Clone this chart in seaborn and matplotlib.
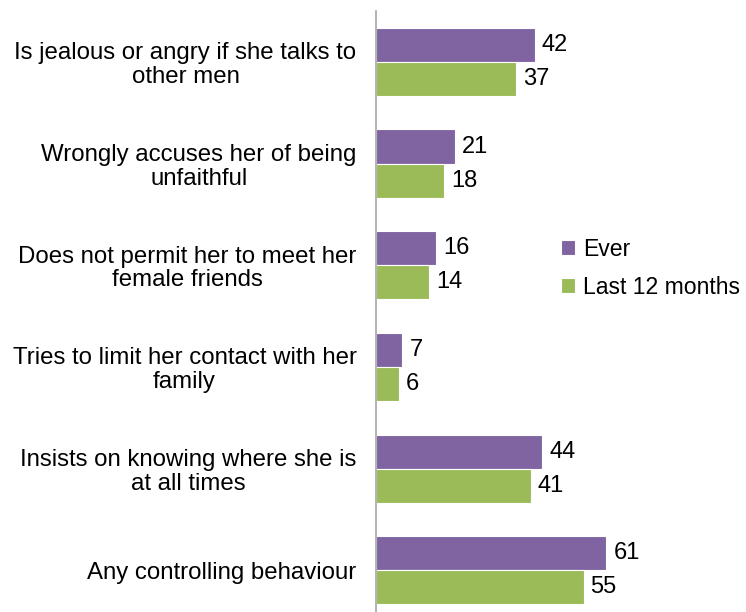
import pandas as pd
import matplotlib
matplotlib.use("Agg")
import matplotlib.pyplot as plt
import seaborn as sns

# Data
categories = [
    "Is jealous or angry if she talks to\nother men",
    "Wrongly accuses her of being\nunfaithful",
    "Does not permit her to meet her\nfemale friends",
    "Tries to limit her contact with her\nfamily",
    "Insists on knowing where she is\nat all times",
    "Any controlling behaviour",
]
ever = [42, 21, 16, 7, 44, 61]
last_12 = [37, 18, 14, 6, 41, 55]
series = ["Ever", "Last 12 months"]
colors = ["#8064A2", "#9BBB59"]

df = pd.DataFrame({
    "category": categories * 2,
    "value": ever + last_12,
    "period": [series[0]] * len(categories) + [series[1]] * len(categories),
})

sns.set_style("white")
plt.rcParams["font.family"] = ["Liberation Sans", "DejaVu Sans"]
plt.rcParams["text.color"] = "black"
plt.rcParams["ytick.color"] = "black"

fig = plt.figure(figsize=(7.46, 6.12), dpi=100)
ax = fig.add_axes([376 / 746, 0, 1 - 376 / 746, 601 / 612])

sns.barplot(
    data=df, y="category", x="value", hue="period",
    palette=colors, orient="h", width=0.67, saturation=1,
    edgecolor="white", linewidth=0.8, ax=ax,
)

for cont in ax.containers:
    ax.bar_label(cont, padding=5, fontsize=17, color="black")

ax.set_xlim(0, 98)
ax.set_ylim(5.41, -0.50)
ax.set_xlabel("")
ax.set_ylabel("")
ax.set_xticks([])
ax.tick_params(axis="y", length=0, pad=14, labelsize=17.3)
for lbl in ax.get_yticklabels():
    lbl.set_multialignment("center")
    lbl.set_linespacing(1.1)

for side in ["top", "right", "bottom"]:
    ax.spines[side].set_visible(False)
ax.spines["left"].set_color("#A6A6A6")
ax.spines["left"].set_linewidth(1.2)

leg = ax.legend(
    loc="center left", bbox_to_anchor=(0.445, 0.572), frameon=False,
    fontsize=16.6, handlelength=0.6, handleheight=0.6, handletextpad=0.35,
    labelspacing=0.65,
)

plt.savefig("out.png", dpi=100)
